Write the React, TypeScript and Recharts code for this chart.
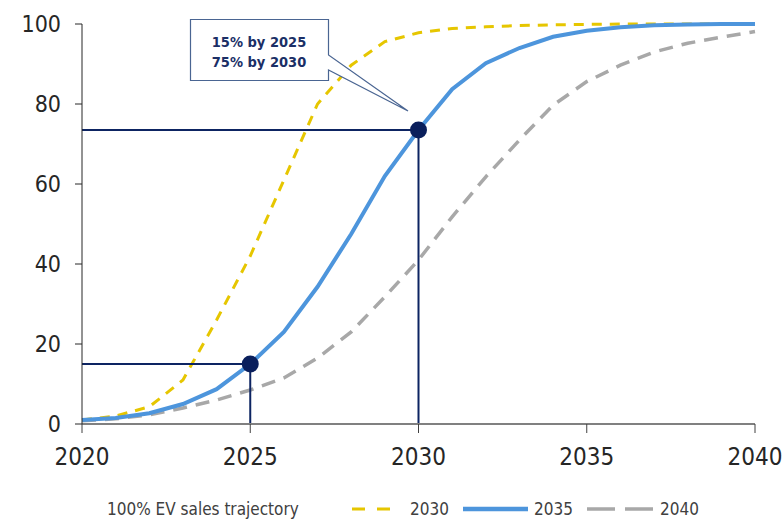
import React from "react";
import {
  LineChart,
  Line,
  XAxis,
  YAxis,
  ReferenceLine,
  ReferenceDot,
} from "recharts";

const years = [
  2020, 2021, 2022, 2023, 2024, 2025, 2026, 2027, 2028, 2029, 2030,
  2031, 2032, 2033, 2034, 2035, 2036, 2037, 2038, 2039, 2040,
];
const target2030 = [
  1, 2, 4.3, 11, 26, 42, 61, 80, 89.7, 95.6, 97.8,
  98.9, 99.3, 99.6, 99.8, 99.9, 100, 100, 100, 100, 100,
];
const target2035 = [
  1, 1.5, 2.7, 5, 8.7, 15, 23, 34.3, 47.5, 62, 73.5,
  83.7, 90.2, 94, 96.8, 98.3, 99.2, 99.7, 99.9, 100, 100,
];
const target2040 = [
  0.8, 1.3, 2.3, 4, 6, 8.5, 11.5, 16.5, 23, 31.8, 41,
  51.8, 61.8, 71, 79.7, 85.6, 89.7, 93, 95.2, 96.7, 98.1,
];
const xTicks = [2020, 2025, 2030, 2035, 2040];
const yTicks = [0, 20, 40, 60, 80, 100];
const markerYears = [2025, 2030];
const markerValues = [15, 73.5];
const calloutLines = ["15% by 2025", "75% by 2030"];
const legendTitle = "100% EV sales trajectory";
const seriesNames = ["2030", "2035", "2040"];

const data = years.map((y, i) => ({
  year: y,
  s2030: target2030[i],
  s2035: target2035[i],
  s2040: target2040[i],
}));

const NAVY = "#0d2462";
const YELLOW = "#e6c600";
const BLUE = "#4d95dc";
const GRAY = "#a8a8a8";
const FONT = "'DejaVu Sans Condensed', 'DejaVu Sans', sans-serif";

// legend swatches and labels, placed by hand to match the source layout
const legendItems = [
  { name: seriesNames[0], color: YELLOW, dash: "13 12", width: 3, x: 352, len: 39, tx: 410 },
  { name: seriesNames[1], color: BLUE, dash: undefined, width: 4.5, x: 463, len: 65, tx: 534 },
  { name: seriesNames[2], color: GRAY, dash: "28 10", width: 3.5, x: 587, len: 66, tx: 660 },
];

function LegendRow() {
  return (
    <svg
      width={783}
      height={40}
      style={{ position: "absolute", left: 0, top: 490 }}
      fontFamily={FONT}
      fontSize={17}
      fill="#404040"
    >
      <text x={107} y={25}>
        {legendTitle}
      </text>
      {legendItems.map((it) => (
        <g key={it.name}>
          <line
            x1={it.x}
            y1={19}
            x2={it.x + it.len}
            y2={19}
            stroke={it.color}
            strokeWidth={it.width}
            strokeDasharray={it.dash}
          />
          <text x={it.tx} y={25}>
            {it.name}
          </text>
        </g>
      ))}
    </svg>
  );
}

function Callout() {
  return (
    <svg
      width={783}
      height={521}
      style={{ position: "absolute", left: 0, top: 0, pointerEvents: "none" }}
    >
      <path
        d="M190.5,19.5 H328.5 V55 L408,111 L328.5,70 V80.5 H190.5 Z"
        fill="#fff"
        stroke="#4a6592"
        strokeWidth={1.2}
      />
      {calloutLines.map((t, i) => (
        <text
          key={t}
          x={259}
          y={47 + i * 20}
          textAnchor="middle"
          fontFamily={FONT}
          fontWeight="bold"
          fontSize={14.5}
          fill="#1b2f66"
        >
          {t}
        </text>
      ))}
    </svg>
  );
}

export default function App() {
  return (
    <div
      style={{
        position: "absolute",
        left: 0,
        top: 0,
        width: 783,
        height: 521,
        background: "#fff",
        fontFamily: FONT,
      }}
    >
      <LineChart
        width={783}
        height={521}
        data={data}
        margin={{ top: 24, right: 28, bottom: 52, left: 0 }}
      >
        <XAxis
          dataKey="year"
          type="number"
          domain={[2020, 2040]}
          ticks={xTicks}
          interval={0}
          height={45}
          tickSize={9}
          tickMargin={15}
          axisLine={{ stroke: "#808080", strokeWidth: 2 }}
          tickLine={{ stroke: "#404040", strokeWidth: 1 }}
          tick={{ fill: "#262626", fontSize: 24, fontFamily: FONT }}
        />
        <YAxis
          type="number"
          domain={[0, 100]}
          ticks={yTicks}
          interval={0}
          width={82}
          tickSize={7}
          tickMargin={14}
          axisLine={{ stroke: "#262626", strokeWidth: 1 }}
          tickLine={{ stroke: "#262626", strokeWidth: 1 }}
          tick={{ fill: "#262626", fontSize: 23, fontFamily: FONT }}
        />
        <Line
          type="linear"
          dataKey="s2040"
          stroke={GRAY}
          strokeWidth={3.5}
          strokeDasharray="14 9"
          dot={false}
          isAnimationActive={false}
        />
        <Line
          type="linear"
          dataKey="s2030"
          stroke={YELLOW}
          strokeWidth={3}
          strokeDasharray="10 8"
          dot={false}
          isAnimationActive={false}
        />
        <Line
          type="linear"
          dataKey="s2035"
          stroke={BLUE}
          strokeWidth={4}
          dot={false}
          isAnimationActive={false}
        />
        {markerYears.map((yr, i) => (
          <ReferenceLine
            key={`h${yr}`}
            segment={[
              { x: 2020, y: markerValues[i] },
              { x: yr, y: markerValues[i] },
            ]}
            stroke={NAVY}
            strokeWidth={2}
          />
        ))}
        {markerYears.map((yr, i) => (
          <ReferenceLine
            key={`v${yr}`}
            segment={[
              { x: yr, y: 0 },
              { x: yr, y: markerValues[i] },
            ]}
            stroke={NAVY}
            strokeWidth={2}
          />
        ))}
        {markerYears.map((yr, i) => (
          <ReferenceDot
            key={`d${yr}`}
            x={yr}
            y={markerValues[i]}
            r={8.5}
            fill="#0a1f5c"
            stroke="none"
          />
        ))}
      </LineChart>
      <Callout />
      <LegendRow />
    </div>
  );
}
